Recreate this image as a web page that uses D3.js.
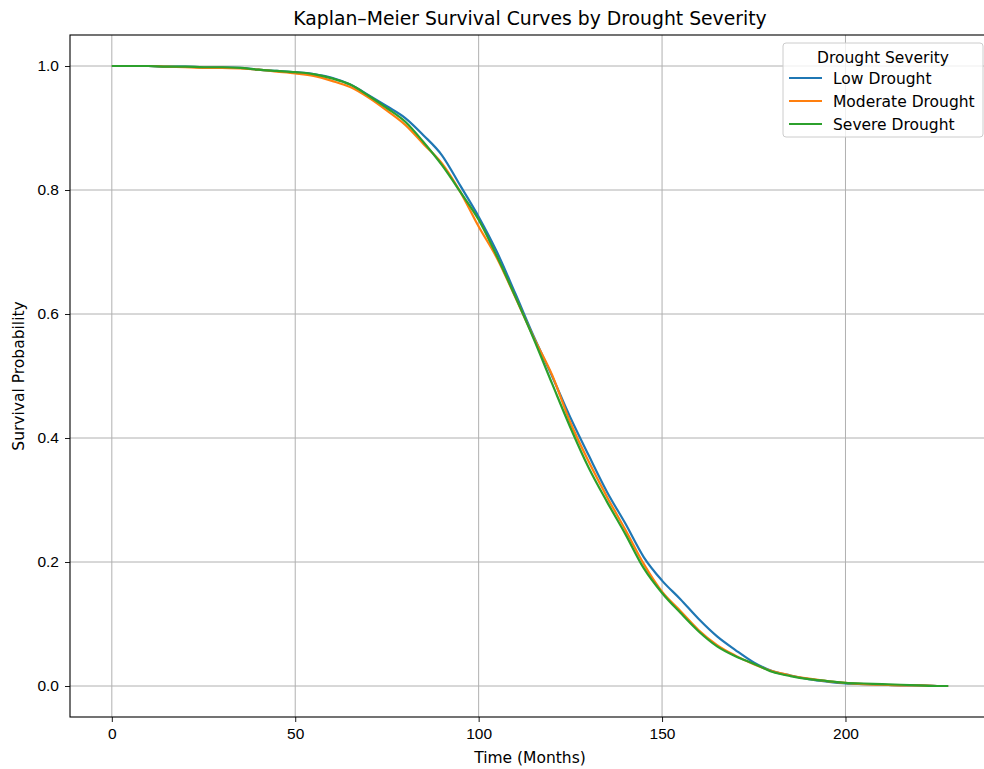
<!DOCTYPE html>
<html>
<head>
<meta charset="utf-8">
<script src="https://cdn.jsdelivr.net/npm/d3@7"></script>
<style>
  body { margin: 0; background: #fff; overflow: hidden; }
  svg { font-family: "DejaVu Sans", sans-serif; display: block; }
  .grid line { stroke: #b0b0b0; stroke-width: 1; }
  .axis path, .axis line { stroke: #000; stroke-width: 0.9; }
  .axis text { font-size: 15.5px; fill: #000; }
</style>
</head>
<body>
<div id="chart"></div>
<script>
const times = [0, 5, 10, 15, 20, 25, 30, 35, 40, 45, 50, 55, 60, 65, 70, 75, 80, 85, 90, 95,
  100, 105, 110, 115, 120, 125, 130, 135, 140, 145, 150, 155, 160, 165, 170, 175, 180, 185,
  190, 195, 200, 205, 210, 215, 220, 225, 228];

const lowDrought = [1.000, 1.000, 1.000, 0.999, 0.999, 0.998, 0.998, 0.997, 0.994, 0.992, 0.990,
  0.987, 0.981, 0.970, 0.953, 0.935, 0.916, 0.888, 0.856, 0.807, 0.757, 0.700, 0.633, 0.564,
  0.500, 0.433, 0.372, 0.313, 0.262, 0.208, 0.170, 0.140, 0.108, 0.080, 0.058, 0.038, 0.024,
  0.017, 0.011, 0.007, 0.004, 0.003, 0.002, 0.001, 0.001, 0.000, 0.000];

const moderateDrought = [1.000, 1.000, 1.000, 0.999, 0.998, 0.997, 0.997, 0.996, 0.994, 0.991,
  0.988, 0.984, 0.976, 0.966, 0.949, 0.928, 0.905, 0.874, 0.843, 0.797, 0.741, 0.690, 0.627,
  0.562, 0.502, 0.425, 0.362, 0.305, 0.252, 0.197, 0.152, 0.121, 0.090, 0.066, 0.049, 0.035,
  0.024, 0.017, 0.012, 0.008, 0.005, 0.003, 0.002, 0.001, 0.001, 0.000, 0.000];

const severeDrought = [1.000, 1.000, 1.000, 0.999, 0.999, 0.998, 0.998, 0.997, 0.994, 0.992,
  0.990, 0.987, 0.980, 0.970, 0.952, 0.932, 0.910, 0.877, 0.840, 0.797, 0.752, 0.693, 0.628,
  0.560, 0.488, 0.417, 0.352, 0.297, 0.245, 0.190, 0.150, 0.118, 0.088, 0.064, 0.048, 0.036,
  0.023, 0.016, 0.011, 0.008, 0.005, 0.004, 0.003, 0.002, 0.001, 0.000, 0.000];

const seriesNames = ["Low Drought", "Moderate Drought", "Severe Drought"];
const seriesColors = ["#1f77b4", "#ff7f0e", "#2ca02c"];
const xTicks = [0, 50, 100, 150, 200];
const yTicks = [0.0, 0.2, 0.4, 0.6, 0.8, 1.0];

const width = 984, height = 769;
// the plot area runs a few pixels past the right edge of the picture
const plot = { left: 70, right: 990, top: 35, bottom: 717 };

const svg = d3.select("#chart").append("svg")
  .attr("width", width)
  .attr("height", height);

const x = d3.scaleLinear()
  .domain([-11.4, 239.4])
  .range([plot.left, plot.right]);

const y = d3.scaleLinear()
  .domain([-0.05, 1.05])
  .range([plot.bottom, plot.top]);

// grid
const grid = svg.append("g").attr("class", "grid");
grid.selectAll("line.v").data(xTicks).enter().append("line")
  .attr("class", "v")
  .attr("x1", d => x(d)).attr("x2", d => x(d))
  .attr("y1", plot.top).attr("y2", plot.bottom);
grid.selectAll("line.h").data(yTicks).enter().append("line")
  .attr("class", "h")
  .attr("x1", plot.left).attr("x2", plot.right)
  .attr("y1", d => y(d)).attr("y2", d => y(d));

// curves
const seriesData = [lowDrought, moderateDrought, severeDrought];
const line = d3.line()
  .x((d, i) => x(times[i]))
  .y(d => y(d))
  .curve(d3.curveMonotoneX);

svg.append("g")
  .selectAll("path")
  .data(seriesData)
  .enter().append("path")
  .attr("d", line)
  .attr("fill", "none")
  .attr("stroke", (d, i) => seriesColors[i])
  .attr("stroke-width", 2.2);

// axes
const xAxis = svg.append("g").attr("class", "axis")
  .attr("transform", `translate(0,${plot.bottom})`)
  .call(d3.axisBottom(x).tickValues(xTicks).tickFormat(d3.format("d")).tickSizeOuter(0).tickSize(5).tickPadding(6));
xAxis.select(".domain").remove();

const yAxis = svg.append("g").attr("class", "axis")
  .attr("transform", `translate(${plot.left},0)`)
  .call(d3.axisLeft(y).tickValues(yTicks).tickFormat(d3.format(".1f")).tickSizeOuter(0).tickSize(5).tickPadding(6));
yAxis.select(".domain").remove();

// frame
svg.append("rect")
  .attr("x", plot.left).attr("y", plot.top)
  .attr("width", plot.right - plot.left)
  .attr("height", plot.bottom - plot.top)
  .attr("fill", "none").attr("stroke", "#000").attr("stroke-width", 1.1);

// labels
svg.append("text")
  .attr("x", (plot.left + plot.right) / 2)
  .attr("y", 25)
  .attr("text-anchor", "middle")
  .attr("font-size", "18.8px")
  .text("Kaplan–Meier Survival Curves by Drought Severity");

svg.append("text")
  .attr("x", (plot.left + plot.right) / 2)
  .attr("y", 763)
  .attr("text-anchor", "middle")
  .attr("font-size", "15.5px")
  .text("Time (Months)");

svg.append("text")
  .attr("transform", `translate(24,${(plot.top + plot.bottom) / 2}) rotate(-90)`)
  .attr("text-anchor", "middle")
  .attr("font-size", "15.5px")
  .text("Survival Probability");

// legend
const legend = svg.append("g").attr("transform", "translate(783,43)");
legend.append("rect")
  .attr("width", 200).attr("height", 94)
  .attr("rx", 3)
  .attr("fill", "#fff").attr("fill-opacity", 0.8)
  .attr("stroke", "#cccccc").attr("stroke-width", 1);
legend.append("text")
  .attr("x", 100).attr("y", 20)
  .attr("text-anchor", "middle")
  .attr("font-size", "15.5px")
  .text("Drought Severity");
seriesNames.forEach((name, i) => {
  const row = legend.append("g").attr("transform", `translate(0,${35 + i * 23})`);
  row.append("line")
    .attr("x1", 6).attr("x2", 39)
    .attr("stroke", seriesColors[i]).attr("stroke-width", 2.2);
  row.append("text")
    .attr("x", 50).attr("y", 5.5)
    .attr("font-size", "15.5px")
    .text(name);
});
</script>
</body>
</html>
